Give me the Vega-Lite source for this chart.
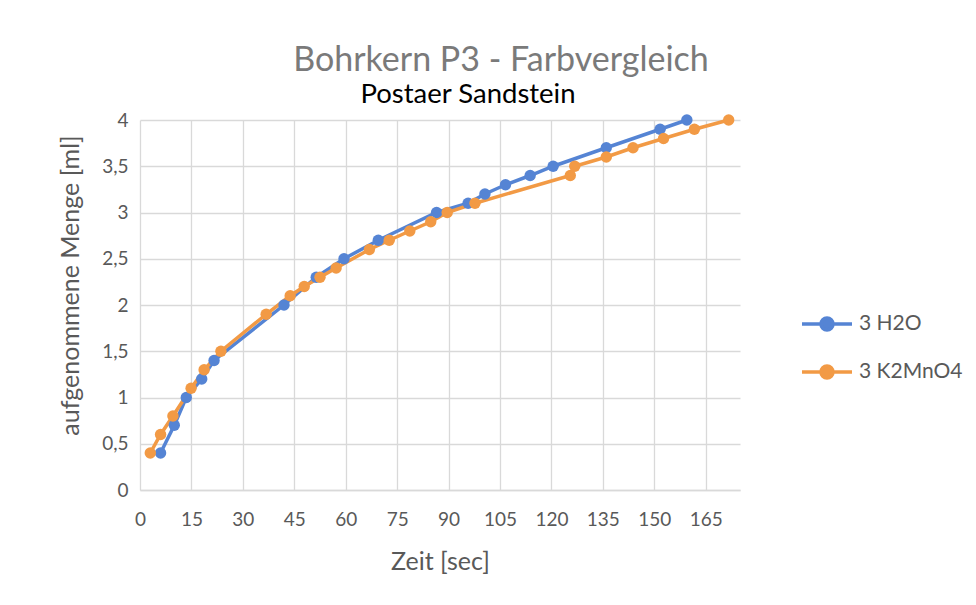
{
  "$schema": "https://vega.github.io/schema/vega-lite/v6.json",
  "width": 600,
  "height": 370,
  "autosize": {"type": "none"},
  "padding": {"left": 140, "top": 120, "right": 236, "bottom": 115},
  "background": "white",
  "title": {
    "text": "Bohrkern P3 - Farbvergleich",
    "subtitle": "Postaer Sandstein",
    "anchor": "middle",
    "frame": "group",
    "dx": 61,
    "offset": 3,
    "font": "Lato",
    "fontSize": 34,
    "fontWeight": "normal",
    "color": "#7a7a7a",
    "subtitleFont": "Lato",
    "subtitleFontSize": 27.5,
    "subtitleColor": "#000000",
    "subtitlePadding": 3,
    "encode": {"subtitle": {"update": {"dx": {"value": 28}}}}
  },
  "data": {
    "values": [
      {"series": "3 H2O", "t": 6, "v": 0.4},
      {"series": "3 H2O", "t": 10, "v": 0.7},
      {"series": "3 H2O", "t": 13.5, "v": 1.0},
      {"series": "3 H2O", "t": 18, "v": 1.2},
      {"series": "3 H2O", "t": 21.6, "v": 1.4},
      {"series": "3 H2O", "t": 42, "v": 2.0},
      {"series": "3 H2O", "t": 51.4, "v": 2.3},
      {"series": "3 H2O", "t": 59.5, "v": 2.5},
      {"series": "3 H2O", "t": 69.5, "v": 2.7},
      {"series": "3 H2O", "t": 86.5, "v": 3.0},
      {"series": "3 H2O", "t": 95.7, "v": 3.1},
      {"series": "3 H2O", "t": 100.6, "v": 3.2},
      {"series": "3 H2O", "t": 106.6, "v": 3.3},
      {"series": "3 H2O", "t": 113.8, "v": 3.4},
      {"series": "3 H2O", "t": 120.5, "v": 3.5},
      {"series": "3 H2O", "t": 136, "v": 3.7},
      {"series": "3 H2O", "t": 151.7, "v": 3.9},
      {"series": "3 H2O", "t": 159.5, "v": 4.0},
      {"series": "3 K2MnO4", "t": 3, "v": 0.4},
      {"series": "3 K2MnO4", "t": 6, "v": 0.6},
      {"series": "3 K2MnO4", "t": 9.6, "v": 0.8},
      {"series": "3 K2MnO4", "t": 14.9, "v": 1.1},
      {"series": "3 K2MnO4", "t": 18.7, "v": 1.3},
      {"series": "3 K2MnO4", "t": 23.6, "v": 1.5},
      {"series": "3 K2MnO4", "t": 36.8, "v": 1.9},
      {"series": "3 K2MnO4", "t": 43.8, "v": 2.1},
      {"series": "3 K2MnO4", "t": 47.9, "v": 2.2},
      {"series": "3 K2MnO4", "t": 52.5, "v": 2.3},
      {"series": "3 K2MnO4", "t": 57.2, "v": 2.4},
      {"series": "3 K2MnO4", "t": 66.9, "v": 2.6},
      {"series": "3 K2MnO4", "t": 72.7, "v": 2.7},
      {"series": "3 K2MnO4", "t": 78.7, "v": 2.8},
      {"series": "3 K2MnO4", "t": 84.8, "v": 2.9},
      {"series": "3 K2MnO4", "t": 89.6, "v": 3.0},
      {"series": "3 K2MnO4", "t": 97.7, "v": 3.1},
      {"series": "3 K2MnO4", "t": 125.5, "v": 3.4},
      {"series": "3 K2MnO4", "t": 126.8, "v": 3.5},
      {"series": "3 K2MnO4", "t": 136, "v": 3.6},
      {"series": "3 K2MnO4", "t": 143.8, "v": 3.7},
      {"series": "3 K2MnO4", "t": 152.7, "v": 3.8},
      {"series": "3 K2MnO4", "t": 161.7, "v": 3.9},
      {"series": "3 K2MnO4", "t": 171.7, "v": 4.0}
    ]
  },
  "mark": {"type": "line", "strokeWidth": 3.5, "point": {"filled": true, "size": 130, "opacity": 1}},
  "encoding": {
    "x": {
      "field": "t",
      "type": "quantitative",
      "scale": {"domain": [0, 175], "nice": false, "zero": true},
      "axis": {
        "title": "Zeit [sec]",
        "values": [0, 15, 30, 45, 60, 75, 90, 105, 120, 135, 150, 165],
        "labelFlush": false,
        "labelPadding": 20,
        "titlePadding": 20
      }
    },
    "y": {
      "field": "v",
      "type": "quantitative",
      "scale": {"domain": [0, 4], "nice": false},
      "axis": {
        "title": "aufgenommene Menge [ml]",
        "values": [0, 0.5, 1, 1.5, 2, 2.5, 3, 3.5, 4],
        "labelExpr": "replace(toString(datum.value), '.', ',')",
        "labelPadding": 12,
        "titlePadding": 18,
        "titleY": 165,
        "domain": false
      }
    },
    "color": {
      "field": "series",
      "type": "nominal",
      "scale": {"domain": ["3 H2O", "3 K2MnO4"], "range": ["#5584d4", "#f29a45"]},
      "legend": {
        "title": null,
        "orient": "none",
        "legendX": 660,
        "legendY": 177,
        "padding": 0,
        "symbolType": "M -1 0 L 1 0 M 0.24 0 A 0.24 0.24 0 1 1 -0.24 0 A 0.24 0.24 0 1 1 0.24 0",
        "symbolSize": 2500,
        "symbolStrokeWidth": 3.5,
        "labelOffset": 5,
        "rowPadding": 8,
        "labelFont": "Lato",
        "labelFontSize": 21,
        "labelColor": "#595959",
        "encode": {"symbols": {"update": {"fill": {"scale": "color", "field": "value"}}}}
      }
    }
  },
  "config": {
    "view": {"stroke": null},
    "axis": {
      "labelFont": "Lato",
      "labelFontSize": 19,
      "labelColor": "#595959",
      "titleFont": "Lato",
      "titleFontSize": 25,
      "titleFontWeight": "normal",
      "titleColor": "#595959",
      "gridColor": "#d9d9d9",
      "gridWidth": 1.3,
      "gridOpacity": 1,
      "ticks": false,
      "domainColor": "#d9d9d9",
      "domainWidth": 1.3
    }
  }
}
